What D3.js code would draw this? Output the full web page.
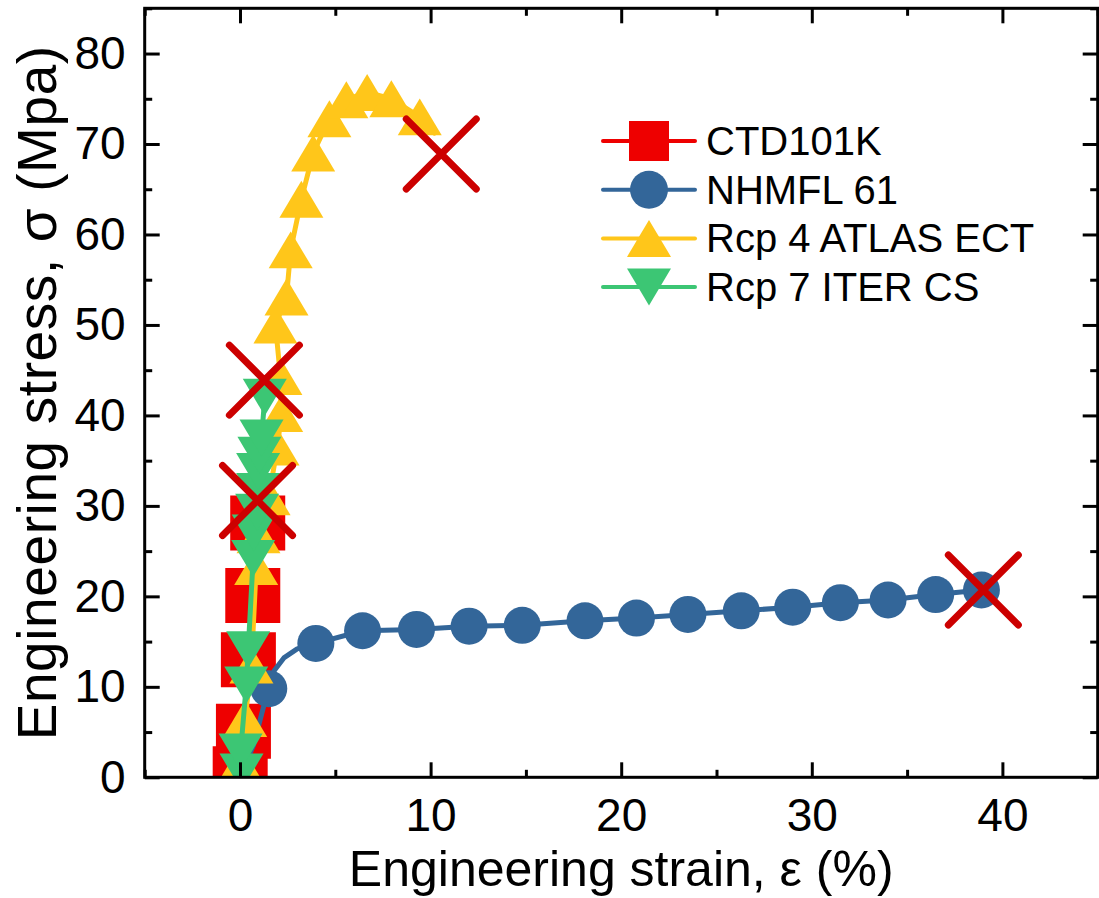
<!DOCTYPE html>
<html>
<head>
<meta charset="utf-8">
<script src="https://cdn.jsdelivr.net/npm/d3@7"></script>
<style>
  html, body { margin: 0; padding: 0; background: #fff; }
  svg { display: block; font-family: "Liberation Sans", Arial, sans-serif; }
</style>
</head>
<body>
<svg id="chart" width="1099" height="898"></svg>
<script>
// CTD101K (red squares)
const ctdStrain = [0.01, 0.18, 0.44, 0.67, 0.93];
const ctdStress = [0.4, 5.1, 13.0, 20.1, 28.1];

// NHMFL 61 (blue circles) - markers
const nhmflStrain = [1.51, 3.98, 6.43, 9.26, 12.02, 14.81, 18.1, 20.8, 23.5, 26.3, 29.0, 31.5, 34.0, 36.5, 38.9];
const nhmflStress = [9.8, 14.8, 16.2, 16.35, 16.7, 16.8, 17.3, 17.6, 18.0, 18.4, 18.8, 19.3, 19.6, 20.2, 20.7];
// NHMFL 61 - start of the curve, before the second marker
const nhmflKneeStrain = [0, 0.7, 1.2, 1.51, 1.8, 2.3, 3.0];
const nhmflKneeStress = [0, 3.5, 7.5, 9.8, 11.8, 13.2, 14.2];

// Rcp 4 ATLAS ECT (yellow up triangles)
const ectStrain = [0.03, 0.27, 0.60, 0.85, 0.97, 1.5, 1.97, 2.16, 2.12, 1.86, 2.44, 2.66, 3.22, 3.84, 4.69, 5.58, 6.67, 7.94, 9.43];
const ectStress = [1.6, 6.5, 12.4, 23.3, 26.8, 31.0, 36.5, 40.2, 44.3, 50.0, 53.1, 58.3, 63.9, 69.0, 72.8, 74.9, 75.7, 75.0, 73.0];

// Rcp 7 ITER CS (green down triangles)
const csStrain = [0.08, 0.03, 0.33, 0.43, 0.69, 0.72, 0.90, 0.95, 0.95, 1.02, 1.13, 1.30];
const csStress = [0.6, 2.8, 10.2, 14.1, 24.2, 27.0, 29.3, 31.6, 33.8, 35.6, 37.5, 42.0];

// fracture points (X marks): CTD101K, ITER CS, ATLAS ECT, NHMFL 61
const fractureStrain = [0.92, 1.28, 10.56, 39.0];
const fractureStress = [30.6, 43.9, 68.9, 20.7];

const seriesNames = ["CTD101K", "NHMFL 61", "Rcp 4 ATLAS ECT", "Rcp 7 ITER CS"];
const xMajor = [0, 10, 20, 30, 40];
const xMinor = [-5, 5, 15, 25, 35, 45];
const yMajor = [0, 10, 20, 30, 40, 50, 60, 70, 80];
const yMinor = [5, 15, 25, 35, 45, 55, 65, 75, 85];

const colors = { red: "#ee0000", blue: "#336699", yellow: "#ffc61a", green: "#3cc674", cross: "#cc0000" };

const plotL = 144.7, plotR = 1097.7, plotT = 8.3, plotB = 777.3;
const x = d3.scaleLinear().domain([-5, 45]).range([plotL, plotR]);
const y = d3.scaleLinear().domain([0, 85]).range([plotB, plotT]);

const svg = d3.select("#chart");

svg.append("defs").append("clipPath").attr("id", "plot-clip")
  .append("rect")
  .attr("x", plotL).attr("y", plotT)
  .attr("width", plotR - plotL).attr("height", plotB - plotT);

// marker shapes (size = full width in px)
const squareType = { draw(ctx, s) { ctx.rect(-s / 2, -s / 2, s, s); } };
const triUpType = { draw(ctx, s) { const h = s * 0.42; ctx.moveTo(0, -h); ctx.lineTo(s / 2, h); ctx.lineTo(-s / 2, h); ctx.closePath(); } };
const triDownType = { draw(ctx, s) { const h = s * 0.42; ctx.moveTo(0, h); ctx.lineTo(s / 2, -h); ctx.lineTo(-s / 2, -h); ctx.closePath(); } };
const circleType = { draw(ctx, s) { ctx.moveTo(s / 2, 0); ctx.arc(0, 0, s / 2, 0, 2 * Math.PI); } };

const zip = (a, b) => a.map((v, i) => [v, b[i]]);

const series = [
  { color: colors.red, type: squareType, size: 55, legendSize: 40,
    line: zip(ctdStrain, ctdStress).concat([[fractureStrain[0], fractureStress[0]]]),
    marks: zip(ctdStrain, ctdStress) },
  { color: colors.blue, type: circleType, size: 37, legendSize: 38,
    line: zip(nhmflKneeStrain, nhmflKneeStress).concat(zip(nhmflStrain, nhmflStress).slice(1)),
    marks: zip(nhmflStrain, nhmflStress) },
  { color: colors.yellow, type: triUpType, size: 44, legendSize: 44,
    line: [[0, 0]].concat(zip(ectStrain, ectStress), [[10.2, 71.2]]),
    marks: zip(ectStrain, ectStress) },
  { color: colors.green, type: triDownType, size: 44, legendSize: 44,
    line: [[0, 0]].concat(zip(csStrain, csStress), [[fractureStrain[1], fractureStress[1]]]),
    marks: zip(csStrain, csStress) }
];

const line = d3.line().x(d => x(d[0])).y(d => y(d[1]));

const plot = svg.append("g").attr("clip-path", "url(#plot-clip)");
series.forEach(s => {
  const g = plot.append("g");
  g.append("path")
    .datum(s.line)
    .attr("d", line)
    .attr("fill", "none")
    .attr("stroke", s.color)
    .attr("stroke-width", 5)
    .attr("stroke-linejoin", "round")
    .attr("stroke-linecap", "round");
  g.selectAll("path.mark")
    .data(s.marks)
    .enter().append("path")
    .attr("class", "mark")
    .attr("d", d3.symbol().type(s.type).size(s.size))
    .attr("transform", d => `translate(${x(d[0])},${y(d[1])})`)
    .attr("fill", s.color);
});

// fracture crosses
const armX = 35;
plot.selectAll("path.cross")
  .data(zip(fractureStrain, fractureStress))
  .enter().append("path")
  .attr("class", "cross")
  .attr("d", `M${-armX},${-armX}L${armX},${armX}M${-armX},${armX}L${armX},${-armX}`)
  .attr("transform", d => `translate(${x(d[0])},${y(d[1])})`)
  .attr("stroke", colors.cross)
  .attr("stroke-width", 7)
  .attr("stroke-linecap", "round")
  .attr("fill", "none");

// axes: inward ticks on all four sides
function styleAxis(g) {
  g.select(".domain").remove();
  g.selectAll(".tick line").attr("stroke", "#000").attr("stroke-width", 3);
  g.selectAll(".tick text").attr("fill", "#000");
  g.attr("font-size", 46).attr("font-family", "'Liberation Sans', Arial, sans-serif");
}

svg.append("g").attr("transform", `translate(0,${plotB})`)
  .call(d3.axisBottom(x).tickValues(xMajor).tickSize(-15).tickPadding(21).tickFormat(d3.format("d")))
  .call(styleAxis);
svg.append("g").attr("transform", `translate(0,${plotB})`)
  .call(d3.axisBottom(x).tickValues(xMinor).tickSize(-7.5).tickFormat(""))
  .call(styleAxis);
svg.append("g").attr("transform", `translate(0,${plotT})`)
  .call(d3.axisTop(x).tickValues(xMajor).tickSize(-15).tickFormat(""))
  .call(styleAxis);
svg.append("g").attr("transform", `translate(0,${plotT})`)
  .call(d3.axisTop(x).tickValues(xMinor).tickSize(-7.5).tickFormat(""))
  .call(styleAxis);

svg.append("g").attr("transform", `translate(${plotL},0)`)
  .call(d3.axisLeft(y).tickValues(yMajor).tickSize(-15).tickPadding(19).tickFormat(d3.format("d")))
  .call(styleAxis);
svg.append("g").attr("transform", `translate(${plotL},0)`)
  .call(d3.axisLeft(y).tickValues(yMinor).tickSize(-7.5).tickFormat(""))
  .call(styleAxis);
svg.append("g").attr("transform", `translate(${plotR},0)`)
  .call(d3.axisRight(y).tickValues(yMajor).tickSize(-15).tickFormat(""))
  .call(styleAxis);
svg.append("g").attr("transform", `translate(${plotR},0)`)
  .call(d3.axisRight(y).tickValues(yMinor).tickSize(-7.5).tickFormat(""))
  .call(styleAxis);

// frame
svg.append("rect")
  .attr("x", plotL).attr("y", plotT)
  .attr("width", plotR - plotL).attr("height", plotB - plotT)
  .attr("fill", "none").attr("stroke", "#000").attr("stroke-width", 3);

// axis titles
svg.append("text")
  .attr("x", (plotL + plotR) / 2).attr("y", 886)
  .attr("text-anchor", "middle")
  .attr("font-size", 50)
  .text("Engineering strain, ε (%)");

svg.append("text")
  .attr("transform", `translate(56,${(plotT + plotB) / 2}) rotate(-90)`)
  .attr("text-anchor", "middle")
  .attr("font-size", 55)
  .attr("letter-spacing", 0.6)
  .text("Engineering stress, σ (Mpa)");

// legend
const legend = svg.append("g").attr("transform", "translate(649,141)");
const rowH = 48.7;
series.forEach((s, i) => {
  const row = legend.append("g").attr("transform", `translate(0,${i * rowH})`);
  row.append("line")
    .attr("x1", -46).attr("x2", 46)
    .attr("stroke", s.color).attr("stroke-width", 4).attr("stroke-linecap", "round");
  row.append("path")
    .attr("d", d3.symbol().type(s.type).size(s.legendSize))
    .attr("fill", s.color);
  row.append("text")
    .attr("x", 57).attr("y", 14)
    .attr("font-size", 40)
    .text(seriesNames[i]);
});
</script>
</body>
</html>
